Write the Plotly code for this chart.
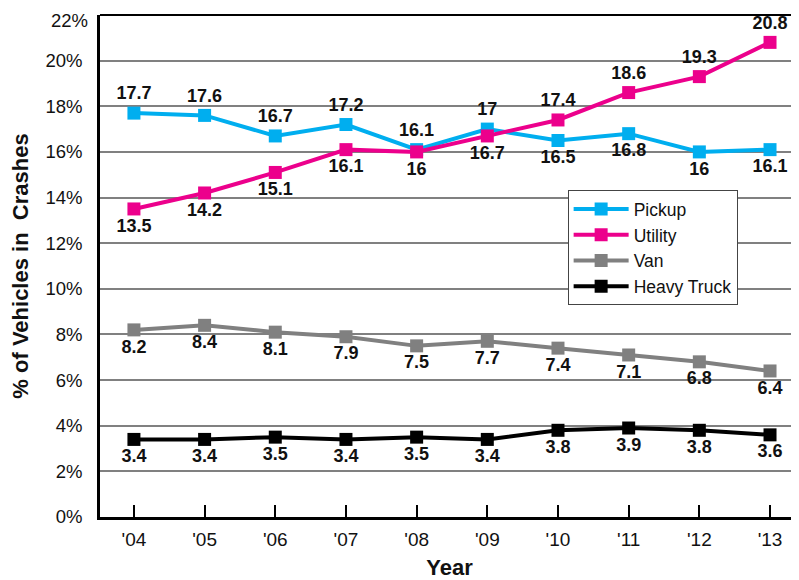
import plotly.graph_objects as go

years = ["'04", "'05", "'06", "'07", "'08", "'09", "'10", "'11", "'12", "'13"]
pickup = [17.7, 17.6, 16.7, 17.2, 16.1, 17.0, 16.5, 16.8, 16.0, 16.1]
utility = [13.5, 14.2, 15.1, 16.1, 16.0, 16.7, 17.4, 18.6, 19.3, 20.8]
van = [8.2, 8.4, 8.1, 7.9, 7.5, 7.7, 7.4, 7.1, 6.8, 6.4]
heavy_truck = [3.4, 3.4, 3.5, 3.4, 3.5, 3.4, 3.8, 3.9, 3.8, 3.6]
y_ticks = [0, 2, 4, 6, 8, 10, 12, 14, 16, 18, 20, 22]

FONT = "Liberation Sans Narrow, Arial Narrow, Liberation Sans, Arial, sans-serif"

T, B = "top center", "bottom center"
pickup_pos = [T, T, T, T, T, T, B, B, B, B]
utility_pos = [B, B, B, B, B, B, T, T, T, T]
van_pos = [B] * 10
truck_pos = [B] * 10

def fmt(v):
    return ("%g" % v)

series = [
    ("Pickup", pickup, "#00AEEF", pickup_pos),
    ("Utility", utility, "#EC008C", utility_pos),
    ("Van", van, "#808080", van_pos),
    ("Heavy Truck", heavy_truck, "#000000", truck_pos),
]

fig = go.Figure()
for name, vals, color, pos in series:
    fig.add_trace(go.Scatter(
        x=list(range(len(years))), y=vals, name=name,
        mode="lines+markers+text",
        line=dict(color=color, width=4),
        marker=dict(symbol="square", size=13, color=color),
        text=[fmt(v) for v in vals],
        textposition=pos,
        textfont=dict(family=FONT, size=18, color="#111111", weight="bold"),
        cliponaxis=False,
    ))

# top tick label drawn as annotation so it stays inside the page
tick_text = [f"{v}%" for v in y_ticks]
top_label = tick_text[-1]
tick_text[-1] = ""

fig.update_layout(
    width=791, height=572,
    margin=dict(l=92, r=0, t=7, b=63, autoexpand=False),
    plot_bgcolor="white", paper_bgcolor="white",
    font=dict(family=FONT, color="#111111"),
    showlegend=True,
    legend=dict(
        x=0.669, y=0.651, xanchor="left", yanchor="top",
        bgcolor="white", bordercolor="#444444", borderwidth=1,
        font=dict(family=FONT, size=17.5, color="#111111"),
        itemwidth=55, tracegroupgap=0,
    ),
    xaxis=dict(
        tickmode="array", tickvals=list(range(len(years))), ticktext=years,
        range=[-0.48, 9.41],
        showgrid=False, zeroline=False,
        showline=True, linecolor="black", linewidth=3,
        ticks="inside", ticklen=12, tickwidth=2, tickcolor="black",
        tickfont=dict(family=FONT, size=19, color="#111111"),
        ticklabelstandoff=3,
        title=dict(text="Year", font=dict(family=FONT, size=22, color="#111111", weight="bold"), standoff=15),
    ),
    yaxis=dict(
        range=[0, 22],
        tickmode="array", tickvals=y_ticks, ticktext=tick_text,
        showgrid=True, gridcolor="#808080", gridwidth=1.5,
        zeroline=False,
        showline=True, linecolor="black", linewidth=2.5,
        ticks="", ticklabelstandoff=11,
        tickfont=dict(family=FONT, size=18.5, color="#111111"),
        title=dict(text="% of Vehicles in  Crashes", font=dict(family=FONT, size=22, color="#111111", weight="bold"), standoff=18),
    ),
    annotations=[dict(
        text=top_label, xref="paper", yref="paper", x=0, y=1,
        xanchor="right", yanchor="top", xshift=-10, yshift=7,
        showarrow=False, font=dict(family=FONT, size=18.5, color="#111111"),
    )],
    shapes=[dict(type="line", xref="paper", yref="paper", x0=0, x1=1, y0=1, y1=1,
                 line=dict(color="black", width=2))],
)

fig.write_html("out.html")
